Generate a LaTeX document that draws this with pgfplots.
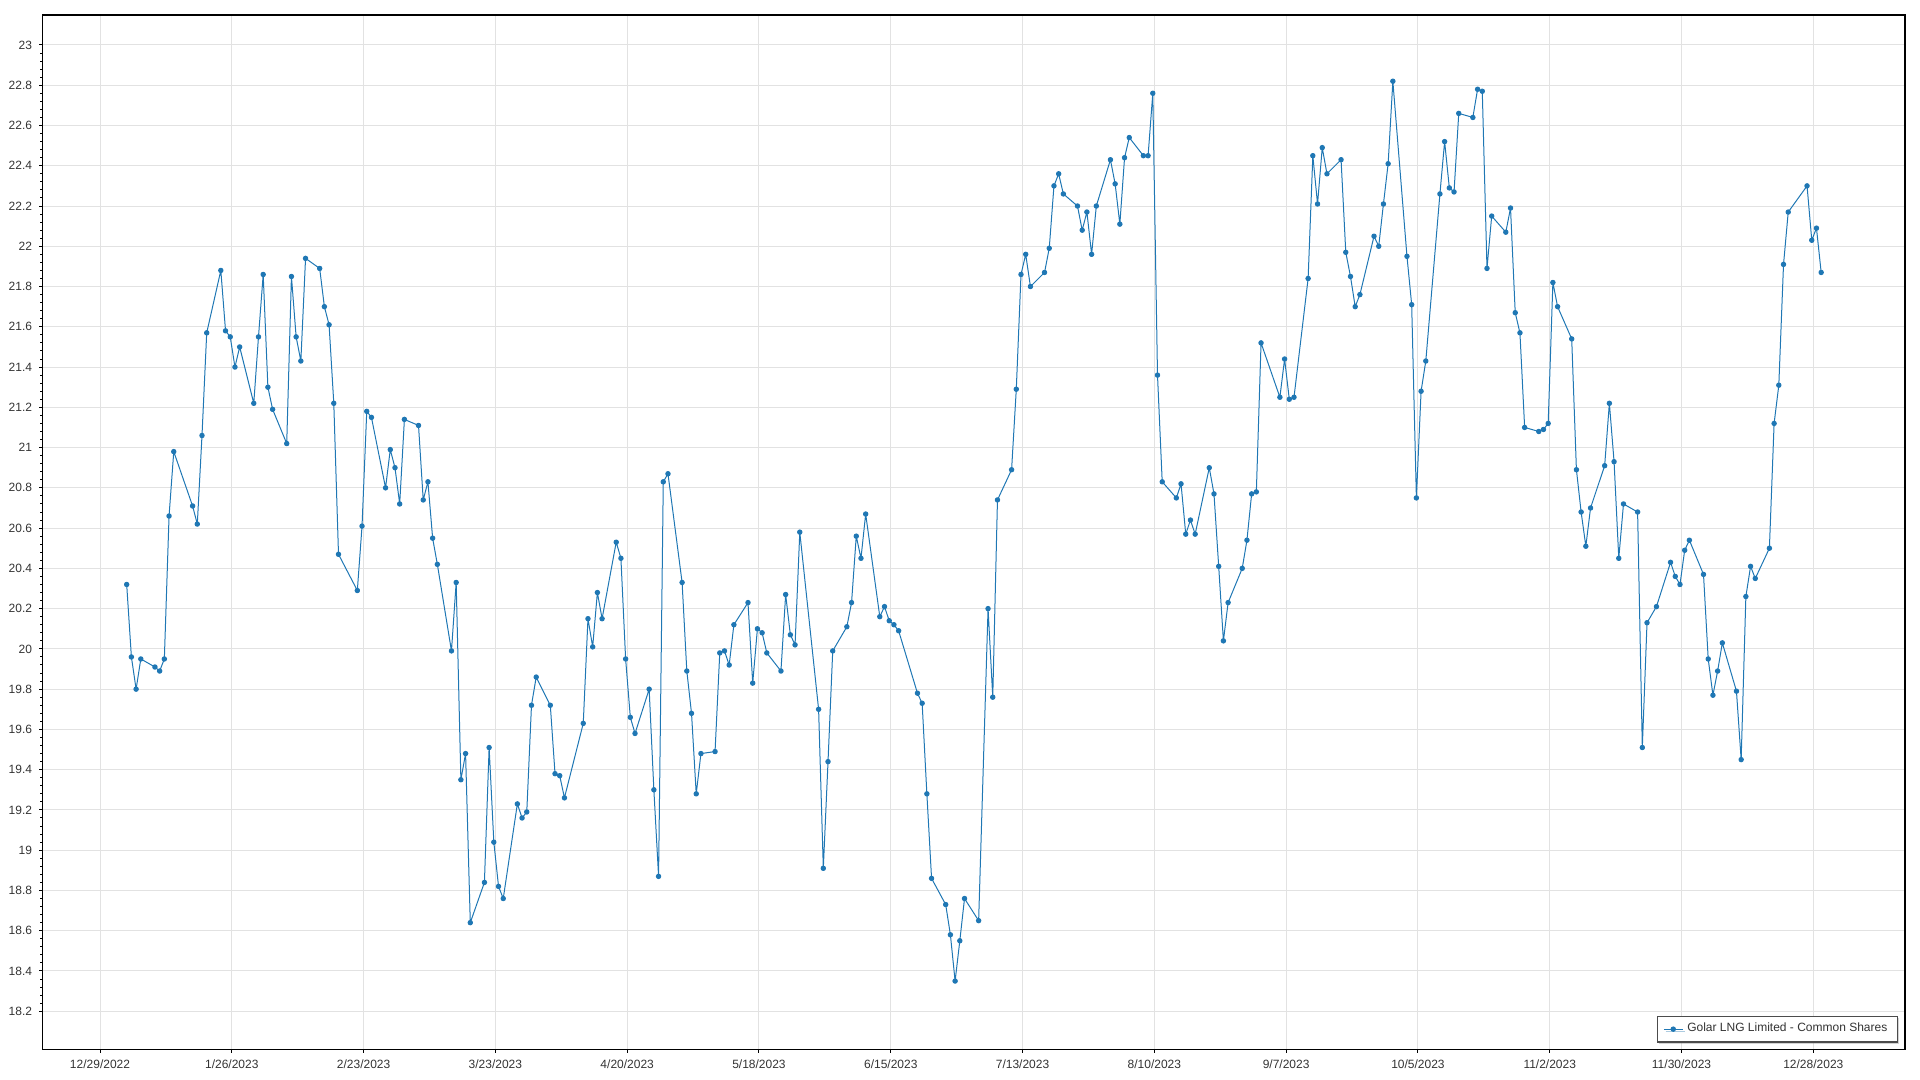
\documentclass[border=0pt]{standalone}
\usepackage{fontspec}
\setmainfont{Liberation Sans}
\usepackage{pgfplots}
\pgfplotsset{compat=1.18}
\usepackage{pgfplotstable}
\usetikzlibrary{shadows}
\definecolor{series}{HTML}{1F77B4}
\definecolor{gridc}{HTML}{E2E2E2}
\definecolor{txt}{HTML}{333333}

% day = days after 12/29/2022, closing price
\pgfplotstableread{
d v
5 20.32
6 19.96
7 19.80
8 19.95
11 19.91
12 19.89
13 19.95
14 20.66
15 20.98
19 20.71
20 20.62
21 21.06
22 21.57
25 21.88
26 21.58
27 21.55
28 21.40
29 21.50
32 21.22
33 21.55
34 21.86
35 21.30
36 21.19
39 21.02
40 21.85
41 21.55
42 21.43
43 21.94
46 21.89
47 21.70
48 21.61
49 21.22
50 20.47
54 20.29
55 20.61
56 21.18
57 21.15
60 20.80
61 20.99
62 20.90
63 20.72
64 21.14
67 21.11
68 20.74
69 20.83
70 20.55
71 20.42
74 19.99
75 20.33
76 19.35
77 19.48
78 18.64
81 18.84
82 19.51
83 19.04
84 18.82
85 18.76
88 19.23
89 19.16
90 19.19
91 19.72
92 19.86
95 19.72
96 19.38
97 19.37
98 19.26
102 19.63
103 20.15
104 20.01
105 20.28
106 20.15
109 20.53
110 20.45
111 19.95
112 19.66
113 19.58
116 19.80
117 19.30
118 18.87
119 20.83
120 20.87
123 20.33
124 19.89
125 19.68
126 19.28
127 19.48
130 19.49
131 19.98
132 19.99
133 19.92
134 20.12
137 20.23
138 19.83
139 20.10
140 20.08
141 19.98
144 19.89
145 20.27
146 20.07
147 20.02
148 20.58
152 19.70
153 18.91
154 19.44
155 19.99
158 20.11
159 20.23
160 20.56
161 20.45
162 20.67
165 20.16
166 20.21
167 20.14
168 20.12
169 20.09
173 19.78
174 19.73
175 19.28
176 18.86
179 18.73
180 18.58
181 18.35
182 18.55
183 18.76
186 18.65
188 20.20
189 19.76
190 20.74
193 20.89
194 21.29
195 21.86
196 21.96
197 21.80
200 21.87
201 21.99
202 22.30
203 22.36
204 22.26
207 22.20
208 22.08
209 22.17
210 21.96
211 22.20
214 22.43
215 22.31
216 22.11
217 22.44
218 22.54
221 22.45
222 22.45
223 22.76
224 21.36
225 20.83
228 20.75
229 20.82
230 20.57
231 20.64
232 20.57
235 20.90
236 20.77
237 20.41
238 20.04
239 20.23
242 20.40
243 20.54
244 20.77
245 20.78
246 21.52
250 21.25
251 21.44
252 21.24
253 21.25
256 21.84
257 22.45
258 22.21
259 22.49
260 22.36
263 22.43
264 21.97
265 21.85
266 21.70
267 21.76
270 22.05
271 22.00
272 22.21
273 22.41
274 22.82
277 21.95
278 21.71
279 20.75
280 21.28
281 21.43
284 22.26
285 22.52
286 22.29
287 22.27
288 22.66
291 22.64
292 22.78
293 22.77
294 21.89
295 22.15
298 22.07
299 22.19
300 21.67
301 21.57
302 21.10
305 21.08
306 21.09
307 21.12
308 21.82
309 21.70
312 21.54
313 20.89
314 20.68
315 20.51
316 20.70
319 20.91
320 21.22
321 20.93
322 20.45
323 20.72
326 20.68
327 19.51
328 20.13
330 20.21
333 20.43
334 20.36
335 20.32
336 20.49
337 20.54
340 20.37
341 19.95
342 19.77
343 19.89
344 20.03
347 19.79
348 19.45
349 20.26
350 20.41
351 20.35
354 20.50
355 21.12
356 21.31
357 21.91
358 22.17
362 22.30
363 22.03
364 22.09
365 21.87
}\glng

\begin{document}
\begin{tikzpicture}
\useasboundingbox (-21.25pt,-15.35pt) rectangle (938.75pt,524.65pt);
\begin{axis}[
  at={(0pt,0pt)}, anchor=south west,
  width=931.25pt, height=517.15pt, scale only axis,
  xmin=-12.22, xmax=383.48, ymin=18.011, ymax=23.149,
  xtick={0,28,56,84,112,140,168,196,224,252,280,308,336,364},
  xticklabels={12/29/2022,1/26/2023,2/23/2023,3/23/2023,4/20/2023,5/18/2023,6/15/2023,7/13/2023,8/10/2023,9/7/2023,10/5/2023,11/2/2023,11/30/2023,12/28/2023},
  ytick={18.2,18.4,18.6,18.8,19,19.2,19.4,19.6,19.8,20,20.2,20.4,20.6,20.8,21,21.2,21.4,21.6,21.8,22,22.2,22.4,22.6,22.8,23},
  minor y tick num=4,
  grid=major, major grid style={gridc, line width=0.5pt},
  tick pos=left, tick align=outside,
  major tick length=1.7pt, minor tick length=1pt,
  every tick/.style={black, line width=0.5pt},
  axis line style={black, line width=0.6pt},
  tick label style={font=\fontsize{6}{7}\selectfont, text=txt},
  yticklabel style={/pgf/number format/fixed},
  /pgf/number format/assume math mode=true,
  legend cell align=left,
  legend style={at={(1,0)}, anchor=south east, xshift=-3.5pt, yshift=3.3pt,
    draw=black!70, line width=0.7pt, fill=white,
    font=\fontsize{6}{7}\selectfont, text=txt,
    drop shadow={shadow xshift=1pt, shadow yshift=-1pt, opacity=0.35, fill=black!50},
    inner xsep=3pt, inner ysep=1.5pt},
]
\addplot[series, line width=0.5pt, line join=round, mark=*, mark size=1.1pt,
  mark options={fill=series, draw=series},
  legend image code/.code={\draw[mark repeat=2,mark phase=2]
    plot coordinates {(0pt,0pt) (4.75pt,0pt) (9.5pt,0pt)};}]
  table[x expr=\thisrow{d}+0.667, y=v] {\glng};
\addlegendentry{Golar LNG Limited - Common Shares}
\end{axis}
\end{tikzpicture}
\end{document}
